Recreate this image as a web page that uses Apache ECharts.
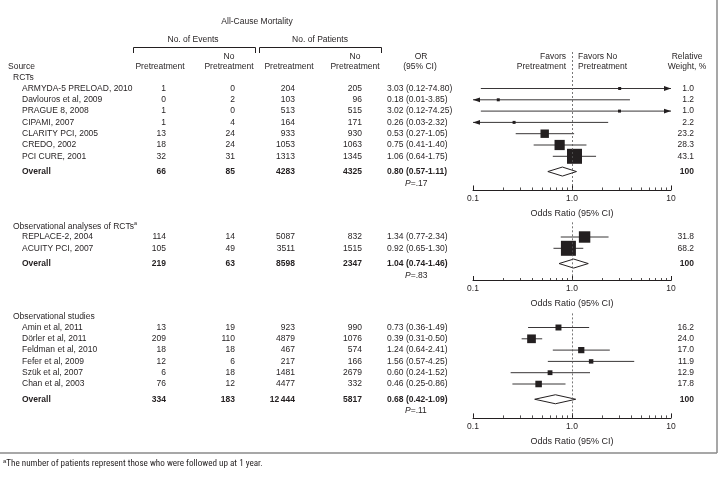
<!DOCTYPE html>
<html><head><meta charset="utf-8">
<script src="https://cdn.jsdelivr.net/npm/echarts@6/dist/echarts.min.js"></script>
<style>html,body{margin:0;padding:0;background:#fff}#c{width:723px;height:477px}</style>
</head><body><div id="c"></div>
<script>
// ---------------- DATA ----------------
const sectionNames = ['RCTs', 'Observational analyses of RCTs', 'Observational studies'];

const rctStudies   = ['ARMYDA-5 PRELOAD, 2010','Davlouros et al, 2009','PRAGUE 8, 2008','CIPAMI, 2007','CLARITY PCI, 2005','CREDO, 2002','PCI CURE, 2001'];
const rctEvPre     = [1, 0, 1, 1, 13, 18, 32];
const rctEvNo      = [0, 2, 0, 4, 24, 24, 31];
const rctPtPre     = [204, 103, 513, 164, 933, 1053, 1313];
const rctPtNo      = [205, 96, 515, 171, 930, 1063, 1345];
const rctOR        = [3.03, 0.18, 3.02, 0.26, 0.53, 0.75, 1.06];
const rctLo        = [0.12, 0.01, 0.12, 0.03, 0.27, 0.41, 0.64];
const rctHi        = [74.80, 3.85, 74.25, 2.32, 1.05, 1.40, 1.75];
const rctWeight    = [1.0, 1.2, 1.0, 2.2, 23.2, 28.3, 43.1];
const rctOverall   = {evPre: 66, evNo: 85, ptPre: 4283, ptNo: 4325, or: 0.80, lo: 0.57, hi: 1.11, p: '.17'};

const obsRctStudies = ['REPLACE-2, 2004','ACUITY PCI, 2007'];
const obsRctEvPre   = [114, 105];
const obsRctEvNo    = [14, 49];
const obsRctPtPre   = [5087, 3511];
const obsRctPtNo    = [832, 1515];
const obsRctOR      = [1.34, 0.92];
const obsRctLo      = [0.77, 0.65];
const obsRctHi      = [2.34, 1.30];
const obsRctWeight  = [31.8, 68.2];
const obsRctOverall = {evPre: 219, evNo: 63, ptPre: 8598, ptNo: 2347, or: 1.04, lo: 0.74, hi: 1.46, p: '.83'};

const obsStudies = ['Amin et al, 2011','Dörler et al, 2011','Feldman et al, 2010','Fefer et al, 2009','Szük et al, 2007','Chan et al, 2003'];
const obsEvPre   = [13, 209, 18, 12, 6, 76];
const obsEvNo    = [19, 110, 18, 6, 18, 12];
const obsPtPre   = [923, 4879, 467, 217, 1481, 4477];
const obsPtNo    = [990, 1076, 574, 166, 2679, 332];
const obsOR      = [0.73, 0.39, 1.24, 1.56, 0.60, 0.46];
const obsLo      = [0.36, 0.31, 0.64, 0.57, 0.24, 0.25];
const obsHi      = [1.49, 0.50, 2.41, 4.25, 1.52, 0.86];
const obsWeight  = [16.2, 24.0, 17.0, 11.9, 12.9, 17.8];
const obsOverall = {evPre: 334, evNo: 183, ptPre: 12444, ptNo: 5817, or: 0.68, lo: 0.42, hi: 1.09, p: '.11'};

const tickValues = [0.1, 1, 10];
const tickLabels = ['0.1', '1.0', '10'];
const minorTickValues = [0.2,0.3,0.4,0.5,0.6,0.7,0.8,0.9,2,3,4,5,6,7,8,9];
const axisName = 'Odds Ratio (95% CI)';
const footnote = 'The number of patients represent those who were followed up at 1 year.';

// ---------------- LAYOUT / STYLE ----------------
const INK = '#231f20';
const FONT = '"Liberation Sans", Arial, Helvetica, sans-serif';
const FS = 8.5;
const PITCH = 11.3;
const AX_MIN = 0.1, AX_MAX = 10;
const GRID_LEFT = 473, GRID_RIGHT = 52;

const X_SEC = 13, X_STUDY = 22, X_C1 = 166, X_C2 = 235, X_C3 = 295, X_C4 = 362, X_OR = 387, X_P = 405, X_W = 694;

const raw = [
  {names: rctStudies, evPre: rctEvPre, evNo: rctEvNo, ptPre: rctPtPre, ptNo: rctPtNo, or: rctOR, lo: rctLo, hi: rctHi, w: rctWeight, ov: rctOverall,
   row0: 88.5, yMin: -3.23, yMax: 8.98},
  {names: obsRctStudies, evPre: obsRctEvPre, evNo: obsRctEvNo, ptPre: obsRctPtPre, ptNo: obsRctPtNo, or: obsRctOR, lo: obsRctLo, hi: obsRctHi, w: obsRctWeight, ov: obsRctOverall,
   row0: 237, yMin: -1.3, yMax: 3.85},
  {names: obsStudies, evPre: obsEvPre, evNo: obsEvNo, ptPre: obsPtPre, ptNo: obsPtNo, or: obsOR, lo: obsLo, hi: obsHi, w: obsWeight, ov: obsOverall,
   row0: 327.5, yMin: -1.25, yMax: 8.0}
];

function fmtN(n) { return n >= 10000 ? String(n).replace(/\B(?=(\d{3})+(?!\d))/g, '\u2009') : String(n); }
function fmtOR(o, l, h) { return o.toFixed(2) + ' (' + l.toFixed(2) + '-' + h.toFixed(2) + ')'; }
function sizeOf(w) { return Math.max(3, Math.min(15, 0.35 * w + 0.3)); }

const grids = [], xAxes = [], yAxes = [], series = [];

raw.forEach((sec, i) => {
  const n = sec.names.length;
  const ovRow = n - 1 + 1.35;
  const pRow = ovRow + 1.05;
  const rows = [];
  rows.push({row: -0.95, bold: false, cells: [{x: X_SEC, a: 'left', t: i === 1 ? '{n|' + sectionNames[i] + '}{sup|a}' : sectionNames[i]}]});
  for (let k = 0; k < n; k++) {
    rows.push({row: k, bold: false, cells: [
      {x: X_STUDY, a: 'left', t: sec.names[k]},
      {x: X_C1, a: 'right', t: fmtN(sec.evPre[k])},
      {x: X_C2, a: 'right', t: fmtN(sec.evNo[k])},
      {x: X_C3, a: 'right', t: fmtN(sec.ptPre[k])},
      {x: X_C4, a: 'right', t: fmtN(sec.ptNo[k])},
      {x: X_OR, a: 'left', t: fmtOR(sec.or[k], sec.lo[k], sec.hi[k])},
      {x: X_W, a: 'right', t: sec.w[k].toFixed(1)}
    ]});
  }
  const ov = sec.ov;
  rows.push({row: ovRow, bold: true, cells: [
    {x: X_STUDY, a: 'left', t: 'Overall'},
    {x: X_C1, a: 'right', t: fmtN(ov.evPre)},
    {x: X_C2, a: 'right', t: fmtN(ov.evNo)},
    {x: X_C3, a: 'right', t: fmtN(ov.ptPre)},
    {x: X_C4, a: 'right', t: fmtN(ov.ptNo)},
    {x: X_OR, a: 'left', t: fmtOR(ov.or, ov.lo, ov.hi)},
    {x: X_W, a: 'right', t: '100'}
  ]});
  rows.push({row: pRow, bold: false, cells: [{x: X_P, a: 'left', t: '{i|P}{n|=' + ov.p + '}'}]});

  const top = sec.row0 + sec.yMin * PITCH;
  const height = (sec.yMax - sec.yMin) * PITCH;
  grids.push({left: GRID_LEFT, right: GRID_RIGHT, top: top, height: height, containLabel: false});
  const base = {
    type: 'log', logBase: 10, min: AX_MIN, max: AX_MAX, gridIndex: i, position: 'bottom',
    splitLine: {show: false}, minorSplitLine: {show: false}
  };
  xAxes.push(Object.assign({}, base, {
    axisLine: {show: true, onZero: false, lineStyle: {color: INK, width: 1}},
    axisTick: {show: true, inside: true, length: 4.5, customValues: tickValues, lineStyle: {color: INK, width: 1}},
    axisLabel: {show: true, customValues: tickValues, margin: 4, color: INK, fontSize: FS, fontFamily: FONT,
      formatter: v => { let b = 0, d = 1e9; tickValues.forEach((t, j) => { const e = Math.abs(Math.log10(v) - Math.log10(t)); if (e < d) { d = e; b = j; } }); return tickLabels[b]; }},
    name: axisName, nameLocation: 'middle', nameGap: 19,
    nameTextStyle: {color: INK, fontSize: 9, fontFamily: FONT}
  }));
  xAxes.push(Object.assign({}, base, {
    axisLine: {show: false, onZero: false},
    axisTick: {show: true, inside: true, length: 2.5, customValues: minorTickValues, lineStyle: {color: INK, width: 0.8}},
    axisLabel: {show: false}
  }));
  yAxes.push({type: 'value', gridIndex: i, inverse: true, min: sec.yMin, max: sec.yMax, show: false});

  series.push({
    type: 'custom', xAxisIndex: 2 * i, yAxisIndex: i, clip: false, silent: true, z: 5,
    data: rows.map(r => [1, r.row]),
    encode: {x: 0, y: 1},
    renderItem: (params, api) => {
      const r = rows[params.dataIndex];
      const y = api.coord([1, api.value(1)])[1];
      return {type: 'group', children: r.cells.map(c => ({
        type: 'text',
        style: {
          x: c.x, y: y, text: c.t, align: c.a, verticalAlign: 'middle',
          fontSize: FS, fontFamily: FONT, fontWeight: r.bold ? 'bold' : 'normal', fill: INK,
          rich: {
            n: {fontSize: FS, fontFamily: FONT, fill: INK, lineHeight: 11},
            i: {fontSize: FS, fontFamily: FONT, fill: INK, fontStyle: 'italic', lineHeight: 11},
            sup: {fontSize: 5.5, fontFamily: FONT, fill: INK, verticalAlign: 'top', lineHeight: 6}
          }
        }
      }))};
    }
  });

  series.push({
    type: 'custom', xAxisIndex: 2 * i, yAxisIndex: i, clip: false, silent: true, z: 3,
    data: sec.or.map((o, k) => [o, sec.lo[k], sec.hi[k], k, sec.w[k]]),
    encode: {x: [0, 1, 2], y: 3},
    renderItem: (params, api) => {
      const o = api.value(0), lo = api.value(1), hi = api.value(2), row = api.value(3), w = api.value(4);
      const pl = api.coord([Math.max(lo, AX_MIN), row]);
      const pr = api.coord([Math.min(hi, AX_MAX), row]);
      const po = api.coord([o, row]);
      const y = po[1];
      const ch = [{type: 'line', shape: {x1: pl[0], y1: y, x2: pr[0], y2: y}, style: {stroke: INK, lineWidth: 0.9}}];
      if (lo < AX_MIN) ch.push({type: 'polygon', shape: {points: [[pl[0], y], [pl[0] + 7, y - 2.4], [pl[0] + 7, y + 2.4]]}, style: {fill: INK}});
      if (hi > AX_MAX) ch.push({type: 'polygon', shape: {points: [[pr[0], y], [pr[0] - 7, y - 2.4], [pr[0] - 7, y + 2.4]]}, style: {fill: INK}});
      const s = sizeOf(w);
      ch.push({type: 'rect', shape: {x: po[0] - s / 2, y: y - s / 2, width: s, height: s}, style: {fill: INK}});
      return {type: 'group', children: ch};
    },
    markLine: {
      silent: true, symbol: 'none', label: {show: false},
      lineStyle: {color: '#555', type: [2, 2], width: 0.8},
      data: [{xAxis: 1}]
    }
  });

  series.push({
    type: 'custom', xAxisIndex: 2 * i, yAxisIndex: i, clip: false, silent: true, z: 4,
    data: [[ov.or, ov.lo, ov.hi, ovRow]],
    encode: {x: [0, 1, 2], y: 3},
    renderItem: (params, api) => {
      const row = api.value(3);
      const pl = api.coord([api.value(1), row]);
      const pr = api.coord([api.value(2), row]);
      const po = api.coord([api.value(0), row]);
      const y = po[1], h = 4.5;
      return {type: 'polygon', shape: {points: [[pl[0], y], [po[0], y - h], [pr[0], y], [po[0], y + h]]},
        style: {fill: '#fff', stroke: INK, lineWidth: 1}};
    }
  });
});

function txt(x, y, t, align, extra) {
  return {type: 'text', silent: true, style: Object.assign({x: x, y: y, text: t, align: align || 'center', verticalAlign: 'middle',
    fontSize: FS, fontFamily: FONT, fill: INK}, extra || {})};
}

const graphics = [
  txt(257, 22, 'All-Cause Mortality', 'center'),
  txt(193, 40, 'No. of Events', 'center'),
  txt(320, 40, 'No. of Patients', 'center'),
  {type: 'polyline', silent: true, shape: {points: [[133.5, 53], [133.5, 47.5], [255.5, 47.5], [255.5, 53]]}, style: {stroke: INK, lineWidth: 1, fill: null}},
  {type: 'polyline', silent: true, shape: {points: [[259.5, 53], [259.5, 47.5], [381.5, 47.5], [381.5, 53]]}, style: {stroke: INK, lineWidth: 1, fill: null}},
  txt(8, 67, 'Source', 'left'),
  txt(160, 67, 'Pretreatment'),
  txt(229, 57, 'No'), txt(229, 67, 'Pretreatment'),
  txt(289, 67, 'Pretreatment'),
  txt(355, 57, 'No'), txt(355, 67, 'Pretreatment'),
  txt(421, 57, 'OR'), txt(420, 67, '(95% CI)'),
  txt(566, 57, 'Favors', 'right'), txt(566, 67, 'Pretreatment', 'right'),
  txt(578, 57, 'Favors No', 'left'), txt(578, 67, 'Pretreatment', 'left'),
  txt(687, 57, 'Relative'), txt(687, 67, 'Weight, %'),
  {type: 'line', silent: true, shape: {x1: 717, y1: 0, x2: 717, y2: 453}, style: {stroke: '#8a8a8a', lineWidth: 1.5}},
  {type: 'line', silent: true, shape: {x1: 0, y1: 453, x2: 717, y2: 453}, style: {stroke: '#8a8a8a', lineWidth: 1.5}},
  {type: 'text', silent: true, style: {x: 3, y: 464, text: '{sup|a}{n|' + footnote + '}', align: 'left', verticalAlign: 'middle',
    rich: {
      n: {fontSize: 9.1, fontFamily: '"Liberation Sans Narrow", "Roboto Condensed", Roboto, sans-serif', fill: INK, lineHeight: 11},
      sup: {fontSize: 6, fontFamily: FONT, fill: INK, verticalAlign: 'top', lineHeight: 6}
    }}}
];

const chart = echarts.init(document.getElementById('c'), null, {renderer: 'canvas'});
chart.setOption({
  backgroundColor: '#fff',
  animation: false,
  grid: grids,
  xAxis: xAxes,
  yAxis: yAxes,
  series: series,
  graphic: graphics
});
</script>
</body></html>
